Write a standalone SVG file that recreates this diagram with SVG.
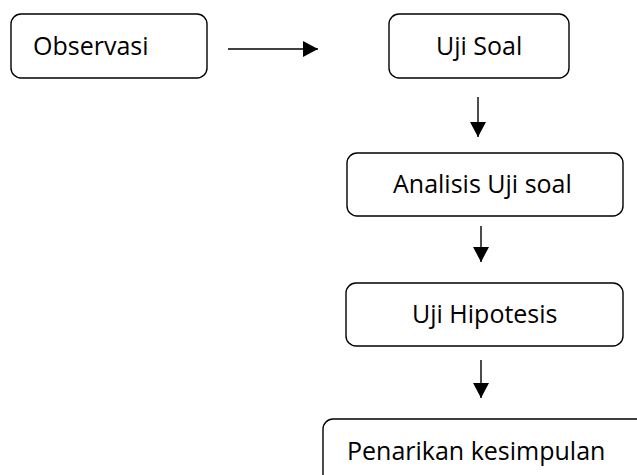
<svg xmlns="http://www.w3.org/2000/svg" width="637" height="475" viewBox="0 0 637 475">
  <style>
    .box { fill: #ffffff; stroke: #000000; stroke-width: 1.4; }
    .label { font-family: "Open Sans", "Noto Sans", "Liberation Sans", sans-serif; font-size: 25px; fill: #000000; }
    .conn { stroke: #000000; stroke-width: 1.4; fill: none; marker-end: url(#arrow); }
  </style>
  <defs>
    <marker id="arrow" markerUnits="userSpaceOnUse" markerWidth="15" markerHeight="16" refX="15" refY="8" orient="auto">
      <path d="M0,0 L15,8 L0,16 z" fill="#000000"/>
    </marker>
  </defs>
  <rect width="637" height="475" fill="#ffffff"/>
  <g id="observasi">
    <rect class="box" x="11" y="14" width="196" height="64" rx="10"/>
    <text class="label" x="33" y="55">Observasi</text>
  </g>
  <g id="uji-soal">
    <rect class="box" x="389" y="14" width="180" height="64" rx="10"/>
    <text class="label" x="436" y="55">Uji Soal</text>
  </g>
  <g id="analisis-uji-soal">
    <rect class="box" x="347" y="153" width="276" height="63" rx="10"/>
    <text class="label" x="393" y="193">Analisis Uji soal</text>
  </g>
  <g id="uji-hipotesis">
    <rect class="box" x="346" y="283" width="277" height="63" rx="10"/>
    <text class="label" x="412" y="323">Uji Hipotesis</text>
  </g>
  <g id="penarikan-kesimpulan">
    <rect class="box" x="323" y="419" width="340" height="80" rx="10"/>
    <text class="label" x="347" y="460">Penarikan kesimpulan</text>
  </g>
  <g id="connectors">
    <line class="conn" x1="228" y1="49" x2="318" y2="49"/>
    <line class="conn" x1="478" y1="97" x2="478" y2="137"/>
    <line class="conn" x1="481" y1="226" x2="481" y2="262"/>
    <line class="conn" x1="481" y1="360" x2="481" y2="398"/>
  </g>
</svg>
